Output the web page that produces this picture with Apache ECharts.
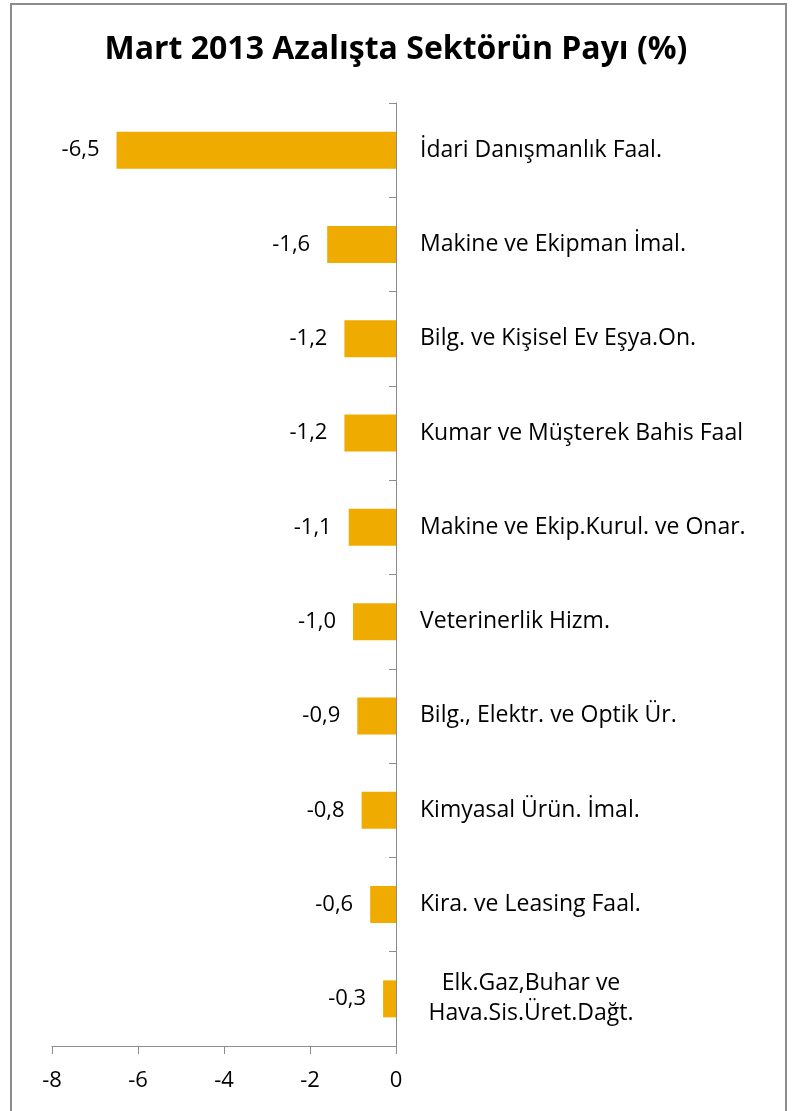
<!DOCTYPE html>
<html>
<head>
	<meta charset="utf-8">
	<title>Mart 2013 Azalışta Sektörün Payı</title>
	<script type="text/javascript" src="https://cdn.jsdelivr.net/npm/echarts@6/dist/echarts.min.js"></script>
	<style>
		html, body { margin: 0; padding: 0; background: #fff; }
	</style>
</head>
<body>
	<div id="main" style="width: 792px;height: 1111px"></div>
	<script type="text/javascript">
	// sektörler (yukarıdan aşağıya)
	const sectors = [
		'İdari Danışmanlık Faal.',
		'Makine ve Ekipman İmal.',
		'Bilg. ve Kişisel Ev Eşya.On.',
		'Kumar ve Müşterek Bahis Faal',
		'Makine ve Ekip.Kurul. ve Onar.',
		'Veterinerlik Hizm.',
		'Bilg., Elektr. ve Optik Ür.',
		'Kimyasal Ürün. İmal.',
		'Kira. ve Leasing Faal.',
		'Elk.Gaz,Buhar ve\nHava.Sis.Üret.Dağt.'
	];
	// azalıştaki pay (%)
	const shares = [-6.5, -1.6, -1.2, -1.2, -1.1, -1.0, -0.9, -0.8, -0.6, -0.3];
	// x ekseni
	const xTicks = [-8, -6, -4, -2, 0];

	const font = '"Open Sans", "Noto Sans", sans-serif';
	const chart = echarts.init(document.getElementById('main'));

	const option = {
		backgroundColor: '#fff',
		animation: false,
		title: {
			text: 'Mart 2013 Azalışta Sektörün Payı (%)',
			left: 'center',
			top: 29,
			textStyle: {
				fontFamily: font,
				fontWeight: 'bold',
				fontSize: 32,
				color: '#000'
			}
		},
		// çerçeve
		graphic: [{
			type: 'rect',
			shape: { x: 11, y: 4, width: 775, height: 1120 },
			style: { fill: 'none', stroke: '#8c8c8c', lineWidth: 2 },
			silent: true
		}],
		grid: {
			left: 52,
			right: 396,
			top: 103,
			bottom: 65
		},
		xAxis: {
			type: 'value',
			min: xTicks[0],
			max: xTicks[xTicks.length - 1],
			interval: 2,
			splitLine: { show: false },
			axisLine: { show: true, lineStyle: { color: '#8c8c8c', width: 1 } },
			axisTick: { show: true, length: 8, lineStyle: { color: '#8c8c8c' } },
			axisLabel: {
				margin: 24,
				fontFamily: font,
				fontSize: 22,
				color: '#000'
			}
		},
		yAxis: {
			type: 'category',
			data: sectors,
			inverse: true,
			position: 'right',
			axisLine: { show: true, onZero: false, lineStyle: { color: '#8c8c8c', width: 1 } },
			axisTick: { show: true, inside: true, length: 7, lineStyle: { color: '#8c8c8c' } },
			axisLabel: {
				margin: 24,
				fontFamily: font,
				fontSize: 23,
				color: '#000',
				formatter: function (v) {
					if (v.indexOf('\n') < 0) return v;
					return v.split('\n').map(function (s) { return '{c|' + s + '}'; }).join('\n');
				},
				rich: {
					c: {
						width: 222,
						align: 'center',
						fontFamily: font,
						fontSize: 23,
						lineHeight: 30,
						color: '#000'
					}
				}
			}
		},
		series: [{
			type: 'bar',
			data: shares,
			barWidth: 37,
			itemStyle: { color: '#F0AB00' },
			label: {
				show: true,
				position: 'left',
				distance: 17,
				fontFamily: font,
				fontSize: 22,
				color: '#000',
				formatter: function (p) {
					return p.value.toFixed(1).replace('.', ',');
				}
			}
		}]
	};

	chart.setOption(option);
	</script>
</body>
</html>
